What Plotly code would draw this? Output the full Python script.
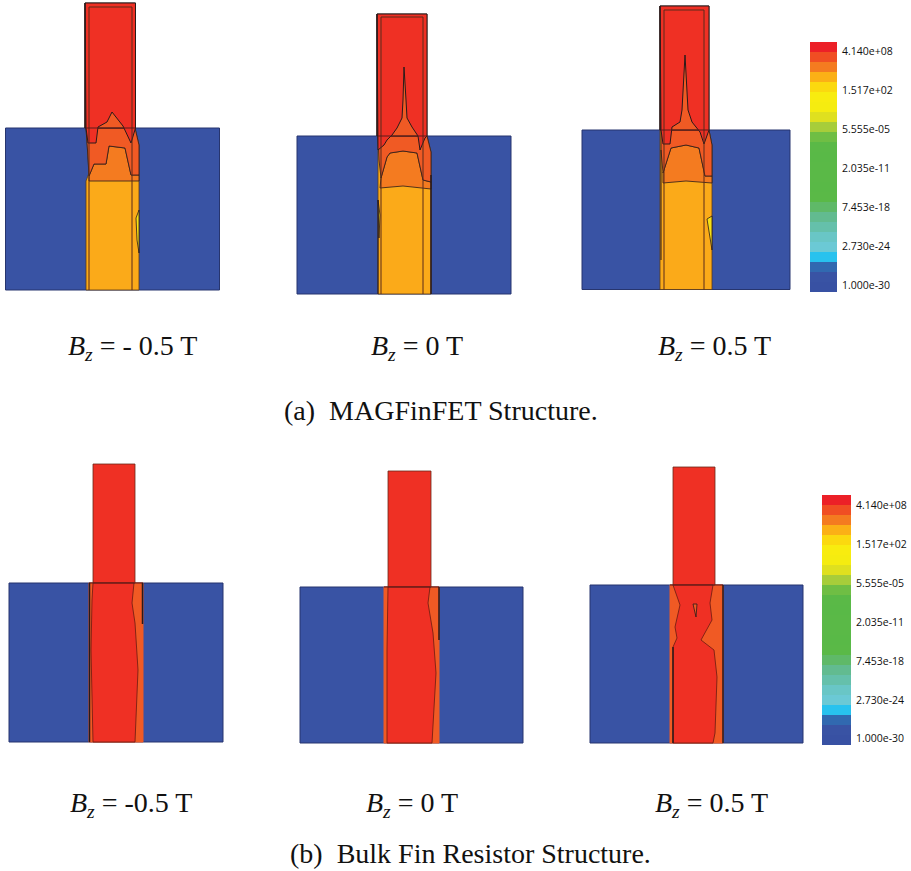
import plotly.graph_objects as go

# Colours of the contour levels
BLUE = '#3953a4'
RED = '#ef3024'
RED_ORANGE = '#f05a24'
ORANGE = '#f47b20'
AMBER = '#fbaa19'
YELLOW = '#f7e015'
EDGE = '#2a1a1a'

# Colour bar bands, top to bottom
band_colors = ['#ec2027', '#f04e23', '#f47b20', '#fbb016', '#fbd90f', '#f8ec0f', '#f5ec10',
               '#dfe01f', '#a7cd3a', '#6fbe44', '#5ab947', '#59b947', '#5ab947', '#5ab947',
               '#59b947', '#5ab947', '#5fb968', '#62bb90', '#65c0ab', '#69c6c6', '#6bc9d5',
               '#28c2ee', '#3169b0', '#3953a4', '#3851a3']
band_levels = list(range(len(band_colors)))
tick_labels = ['4.140e+08', '1.517e+02', '5.555e-05', '2.035e-11', '7.453e-18', '2.730e-24', '1.000e-30']

# Panel outlines (x, y in image pixels)
# MAGFinFET, Bz = -0.5 T
a1_sub = ([5.5, 219.5, 219.5, 5.5], [128, 128, 290, 290])
a1_fin = ([85, 135.5, 135.5, 85], [3, 3, 128, 128])
a1_channel = ([86, 135, 139, 139, 86, 86, 89], [128, 128, 145, 290, 290, 181, 173])
a1_orange = ([89, 94, 106, 109, 125, 131, 139, 139, 89], [176, 164, 164, 146, 148, 175, 175, 181, 181])
a1_redorange = ([86, 135, 139, 139, 131, 125, 109, 106, 94, 89, 87.5],
                [128, 128, 145, 175, 175, 148, 146, 164, 164, 176, 150])
a1_red = ([85, 135.5, 135.5, 131, 123, 112, 107, 98, 96, 88, 86],
          [3, 3, 128, 143, 126, 112, 122, 127, 143, 143, 128])
a1_yellow = ([136, 139, 139, 137], [218, 210, 253, 240])
a1_inner_x = [89, 132]
a1_inner_top = 7

# MAGFinFET, Bz = 0 T
a2_sub = ([297, 511, 511, 297], [136, 136, 294, 294])
a2_fin = ([377, 427, 427, 377], [14, 14, 136, 136])
a2_channel = ([378, 427, 431, 431, 378], [136, 136, 152, 294, 294])
a2_orange = ([381, 387, 390, 403, 417, 423, 431, 431, 403, 380],
             [178, 157, 153, 151, 153, 180, 182, 189, 186, 188])
a2_redorange = ([378, 427, 431, 431, 423, 417, 403, 390, 387, 381, 379],
                [136, 136, 152, 182, 180, 153, 151, 153, 157, 178, 160])
a2_red = ([377, 427, 427, 425, 420, 418, 412, 407, 406, 404, 403, 402, 400, 397, 392, 387, 384, 378],
          [14, 14, 136, 138, 150, 136, 127, 118, 100, 67, 100, 118, 122, 128, 135, 140, 145, 150])
a2_yellow = ([378, 380, 379], [200, 215, 238])
a2_inner_x = [381, 423]
a2_inner_top = 17

# MAGFinFET, Bz = 0.5 T
a3_sub = ([582, 790, 790, 582], [130, 130, 289.5, 289.5])
a3_fin = ([660, 709, 709, 660], [6, 6, 130, 130])
a3_channel = ([660, 709, 712, 712, 660], [130, 130, 145, 289.5, 289.5])
a3_orange = ([663, 671, 686, 699, 705, 712, 712, 686, 663], [173, 148, 145, 148, 176, 176, 183, 181, 183])
a3_redorange = ([661, 709, 712, 712, 705, 699, 686, 671, 663, 661],
                [130, 130, 145, 176, 176, 148, 145, 148, 173, 150])
a3_red = ([660, 709, 709, 704, 700, 692, 688, 685, 682, 680, 672, 670, 663, 661],
          [6, 6, 130, 144, 132, 122, 110, 55, 110, 122, 127, 144, 144, 130])
a3_yellow = ([707, 712, 712], [219, 216, 250])
a3_inner_x = [664, 704]
a3_inner_top = 10

# Bulk fin resistor panels
b1_sub = ([9, 223, 223, 9], [583, 583, 742, 742])
b1_fin = ([93, 135, 135, 93], [464, 464, 583, 583])
b1_channel = ([89, 143, 143, 89], [583, 583, 742, 742])
b1_red = ([93, 134, 132, 135, 138, 135, 93, 91, 92],
          [583, 583, 603, 623, 670, 742, 742, 650, 600])
b2_sub = ([300, 523, 523, 300], [587, 587, 743, 743])
b2_fin = ([388, 431, 431, 388], [471, 471, 587, 587])
b2_channel = ([384, 439, 439, 384], [587, 587, 743, 743])
b2_red = ([388, 430, 428, 433, 436, 432, 387, 387],
          [587, 587, 603, 633, 673, 743, 743, 650])
b3_sub = ([590, 803, 803, 590], [585, 585, 743, 743])
b3_fin = ([673, 715, 715, 673], [467, 467, 585, 585])
b3_channel = ([670, 723, 723, 670], [585, 585, 743, 743])
b3_red = ([673, 713, 710, 712, 701, 714, 717, 715, 713, 673, 673, 677, 675, 680],
          [585, 585, 603, 620, 640, 650, 677, 733, 743, 743, 647, 638, 627, 605])
b3_hole = ([693, 697, 696], [604, 604, 617])


def poly(fig, outline, color, edge=EDGE, width=1):
    x, y = outline
    fig.add_trace(go.Scatter(x=x + x[:1], y=y + y[:1], mode='lines', fill='toself', fillcolor=color,
                             line=dict(color=edge, width=width), hoverinfo='skip', showlegend=False))


def line(fig, x, y, width=1, color=EDGE):
    fig.add_trace(go.Scatter(x=x, y=y, mode='lines', line=dict(color=color, width=width),
                             hoverinfo='skip', showlegend=False))


def colorbar(fig, x0, x1, y0, y1):
    dy = (y1 - y0) / len(band_levels)
    n = len(band_colors) - 1
    scale = [[i / n, c] for i, c in enumerate(band_colors)]
    fig.add_trace(go.Heatmap(z=[[v] for v in band_levels], x0=(x0 + x1) / 2, dx=x1 - x0,
                             y0=y0 + dy / 2, dy=dy, colorscale=scale, showscale=False, hoverinfo='skip'))


fig = go.Figure()

# top row
for sub, fin, channel, orange, redorange, red, yellow, inner_x, inner_top in [
    (a1_sub, a1_fin, a1_channel, a1_orange, a1_redorange, a1_red, a1_yellow, a1_inner_x, a1_inner_top),
    (a2_sub, a2_fin, a2_channel, a2_orange, a2_redorange, a2_red, a2_yellow, a2_inner_x, a2_inner_top),
    (a3_sub, a3_fin, a3_channel, a3_orange, a3_redorange, a3_red, a3_yellow, a3_inner_x, a3_inner_top),
]:
    poly(fig, sub, BLUE, edge='#27356e')
    poly(fig, channel, AMBER, edge='#5a3a1a', width=0.8)
    poly(fig, yellow, YELLOW, width=0.8)
    poly(fig, orange, ORANGE, width=0.8)
    poly(fig, redorange, RED_ORANGE, width=0.8)
    poly(fig, fin, RED_ORANGE, width=0.8)
    poly(fig, red, RED, width=1)
    bottom = max(sub[1])
    line(fig, [inner_x[0], inner_x[0], inner_x[1], inner_x[1]], [bottom, inner_top, inner_top, bottom], color='#5a2a1a')
    line(fig, [fin[0][0], fin[0][1]], [sub[1][0], sub[1][0]], color='#5a1a1a')
    line(fig, [fin[0][0], fin[0][0]], [fin[1][0], fin[1][2]], width=1.5)
line(fig, [431, 431], [175, 294], width=1.5)
line(fig, [378, 378], [200, 294], width=1)
line(fig, [661, 661], [150, 260], width=1)

# bottom row
for sub, fin, channel, red in [(b1_sub, b1_fin, b1_channel, b1_red), (b2_sub, b2_fin, b2_channel, b2_red),
                               (b3_sub, b3_fin, b3_channel, b3_red)]:
    poly(fig, sub, BLUE, edge='#27356e')
    poly(fig, channel, RED_ORANGE, edge=RED_ORANGE)
    poly(fig, fin, RED, edge='#6a2a1a', width=0.8)
    poly(fig, red, RED, edge='#6a1a10', width=0.8)
    line(fig, [channel[0][0], channel[0][1]], [sub[1][0], sub[1][0]], color='#5a1a1a')
poly(fig, b3_hole, RED_ORANGE, width=0.8)
line(fig, [89.5, 89.5], [583, 742], width=1.5)
line(fig, [142.5, 142.5], [583, 624], width=1.5)
line(fig, [439, 439], [587, 640], width=1.5)
line(fig, [673, 673], [647, 743], width=1.5)
line(fig, [723, 723], [585, 743], width=1.5)

colorbar(fig, 810, 837, 42, 292)
colorbar(fig, 822, 851, 495, 745)

# colour bar tick labels
for i, label in enumerate(tick_labels):
    fig.add_annotation(x=840, y=51 + i * 39, text=label, showarrow=False, xanchor='left',
                       font=dict(family='Open Sans', size=10.5, color='#111111'))
    fig.add_annotation(x=854, y=505 + i * 38.9, text=label, showarrow=False, xanchor='left',
                       font=dict(family='Open Sans', size=10.5, color='#111111'))

# condition labels and captions
serif = dict(family='Liberation Serif', size=28, color='#111111')
labels = [(132, 347, '<i>B<sub>z</sub></i> = - 0.5 T'), (417, 347, '<i>B<sub>z</sub></i> = 0 T'),
          (714, 347, '<i>B<sub>z</sub></i> = 0.5 T'), (131, 804, '<i>B<sub>z</sub></i> = -0.5 T'),
          (412, 804, '<i>B<sub>z</sub></i> = 0 T'), (711, 804, '<i>B<sub>z</sub></i> = 0.5 T')]
for x, y, text in labels:
    fig.add_annotation(x=x, y=y, text=text, showarrow=False, font=serif)
fig.add_annotation(x=441, y=410, text='(a)  MAGFinFET Structure.', showarrow=False, font=serif)
fig.add_annotation(x=470, y=853, text='(b)  Bulk Fin Resistor Structure.', showarrow=False, font=serif)

fig.update_xaxes(range=[0, 911], visible=False, fixedrange=True)
fig.update_yaxes(range=[871, 0], visible=False, fixedrange=True)
fig.update_layout(width=911, height=871, margin=dict(l=0, r=0, t=0, b=0), showlegend=False,
                  paper_bgcolor='white', plot_bgcolor='white')

fig.write_html("out.html", config={'displayModeBar': False}, post_script="document.body.style.margin='0';")
